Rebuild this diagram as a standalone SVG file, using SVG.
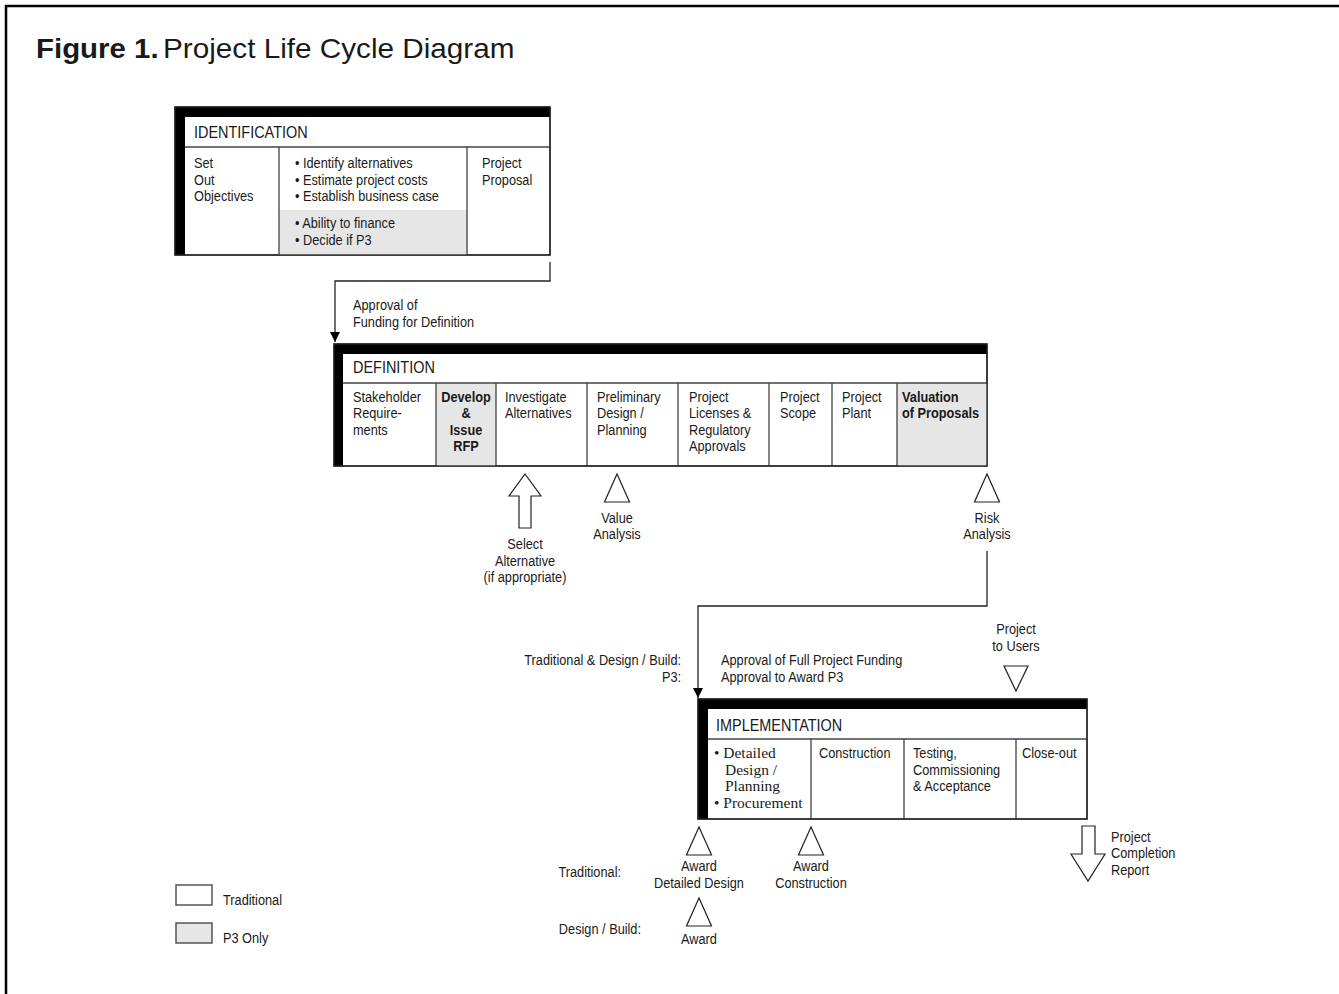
<svg xmlns="http://www.w3.org/2000/svg" width="1339" height="994" viewBox="0 0 1339 994">
<style>
  text { font-family: "Liberation Sans", Arial, sans-serif; font-size: 15px; fill: #1a1a1a; }
  .hdr { font-size: 17px; }
  .b { font-weight: bold; }
  .c { text-anchor: middle; }
  .e { text-anchor: end; }
  .serif { font-family: "Liberation Serif", serif; font-size: 15.5px; }
  .title { font-size: 27px; }
  .box { fill: #fff; stroke: #222; stroke-width: 1.3; }
  .gray { fill: #e6e6e6; stroke: none; }
  .div { stroke: #444; stroke-width: 1.3; fill: none; }
  .bar { fill: #000; }
  .sym { fill: #fff; stroke: #222; stroke-width: 1.2; }
  .conn { fill: none; stroke: #222; stroke-width: 1.3; }
  .leg { stroke: #555; stroke-width: 1.5; }
</style>
<defs>
  <marker id="ah" viewBox="0 0 10 10" refX="10" refY="5" markerWidth="10" markerHeight="10" markerUnits="userSpaceOnUse" orient="auto">
    <path d="M0,0 L10,5 L0,10 Z" fill="#000"/>
  </marker>
  <path id="triUp" d="M0,0 L12.5,28 L-12.5,28 Z"/>
  <path id="triDown" d="M0,25 L12,0 L-12,0 Z"/>
</defs>
<rect width="1339" height="994" fill="#fff"/>
<path d="M6,994 V6 H1339" fill="none" stroke="#000" stroke-width="2.5"/>
<text class="title b" transform="matrix(1.09 0 0 1 36 58)">Figure 1.</text>
<text class="title" transform="matrix(1.1 0 0 1 163 58)">Project Life Cycle Diagram</text>

<g id="connectors">
  <path class="conn" d="M550,262 V281 H335 V342" marker-end="url(#ah)"/>
  <path class="conn" d="M987,551 V606 H698 V698" marker-end="url(#ah)"/>
</g>

<g id="identification">
  <rect class="box" x="175" y="107" width="375" height="148"/>
  <rect class="gray" x="279" y="210" width="188" height="45"/>
  <path class="div" d="M185,147 H550 M279,147 V255 M467,147 V255"/>
  <rect class="bar" x="175" y="107" width="375" height="10"/>
  <rect class="bar" x="175" y="107" width="10" height="148"/>
  <rect x="175" y="107" width="375" height="148" fill="none" stroke="#222" stroke-width="1.3"/>
  <text class="hdr" transform="matrix(.85 0 0 1 194 138)">IDENTIFICATION</text>
  <text transform="matrix(.85 0 0 1 194 168)">Set</text>
  <text transform="matrix(.85 0 0 1 194 185)">Out</text>
  <text transform="matrix(.85 0 0 1 194 201)">Objectives</text>
  <text transform="matrix(.85 0 0 1 295 168)">• Identify alternatives</text>
  <text transform="matrix(.85 0 0 1 295 185)">• Estimate project costs</text>
  <text transform="matrix(.85 0 0 1 295 201)">• Establish business case</text>
  <text transform="matrix(.85 0 0 1 295 228)">• Ability to finance</text>
  <text transform="matrix(.85 0 0 1 295 245)">• Decide if P3</text>
  <text transform="matrix(.85 0 0 1 482 168)">Project</text>
  <text transform="matrix(.85 0 0 1 482 185)">Proposal</text>
</g>

<g id="approval-definition">
  <text transform="matrix(.85 0 0 1 353 310)">Approval of</text>
  <text transform="matrix(.85 0 0 1 353 327)">Funding for Definition</text>
</g>

<g id="definition">
  <rect class="box" x="334" y="344" width="653" height="122"/>
  <rect class="gray" x="436" y="383" width="60" height="83"/>
  <rect class="gray" x="897" y="383" width="90" height="83"/>
  <path class="div" d="M343,383 H987 M436,383 V466 M496,383 V466 M587,383 V466 M678,383 V466 M769,383 V466 M832,383 V466 M897,383 V466"/>
  <rect class="bar" x="334" y="344" width="653" height="10"/>
  <rect class="bar" x="334" y="344" width="9" height="122"/>
  <rect x="334" y="344" width="653" height="122" fill="none" stroke="#222" stroke-width="1.3"/>
  <text class="hdr" transform="matrix(.85 0 0 1 353 373)">DEFINITION</text>
  <text transform="matrix(.85 0 0 1 353 402)">Stakeholder</text>
  <text transform="matrix(.85 0 0 1 353 418)">Require-</text>
  <text transform="matrix(.85 0 0 1 353 435)">ments</text>
  <text class="b c" transform="matrix(.85 0 0 1 466 402)">Develop</text>
  <text class="b c" transform="matrix(.85 0 0 1 466 418)">&amp;</text>
  <text class="b c" transform="matrix(.85 0 0 1 466 435)">Issue</text>
  <text class="b c" transform="matrix(.85 0 0 1 466 451)">RFP</text>
  <text transform="matrix(.85 0 0 1 505 402)">Investigate</text>
  <text transform="matrix(.85 0 0 1 505 418)">Alternatives</text>
  <text transform="matrix(.85 0 0 1 597 402)">Preliminary</text>
  <text transform="matrix(.85 0 0 1 597 418)">Design /</text>
  <text transform="matrix(.85 0 0 1 597 435)">Planning</text>
  <text transform="matrix(.85 0 0 1 689 402)">Project</text>
  <text transform="matrix(.85 0 0 1 689 418)">Licenses &amp;</text>
  <text transform="matrix(.85 0 0 1 689 435)">Regulatory</text>
  <text transform="matrix(.85 0 0 1 689 451)">Approvals</text>
  <text transform="matrix(.85 0 0 1 780 402)">Project</text>
  <text transform="matrix(.85 0 0 1 780 418)">Scope</text>
  <text transform="matrix(.85 0 0 1 842 402)">Project</text>
  <text transform="matrix(.85 0 0 1 842 418)">Plant</text>
  <text class="b" transform="matrix(.85 0 0 1 902 402)">Valuation</text>
  <text class="b" transform="matrix(.85 0 0 1 902 418)">of Proposals</text>
</g>

<g id="select-alternative">
  <polygon class="sym" points="525,474 541,496 531,496 531,528 519,528 519,496 509,496"/>
  <text class="c" transform="matrix(.85 0 0 1 525 549)">Select</text>
  <text class="c" transform="matrix(.85 0 0 1 525 566)">Alternative</text>
  <text class="c" transform="matrix(.85 0 0 1 525 582)">(if appropriate)</text>
</g>

<g id="value-analysis">
  <use href="#triUp" class="sym" x="617" y="474"/>
  <text class="c" transform="matrix(.85 0 0 1 617 523)">Value</text>
  <text class="c" transform="matrix(.85 0 0 1 617 539)">Analysis</text>
</g>

<g id="risk-analysis">
  <use href="#triUp" class="sym" x="987" y="474"/>
  <text class="c" transform="matrix(.85 0 0 1 987 523)">Risk</text>
  <text class="c" transform="matrix(.85 0 0 1 987 539)">Analysis</text>
</g>

<g id="approval-implementation">
  <text class="e" transform="matrix(.85 0 0 1 681 665)">Traditional &amp; Design / Build:</text>
  <text class="e" transform="matrix(.85 0 0 1 681 682)">P3:</text>
  <text transform="matrix(.85 0 0 1 721 665)">Approval of Full Project Funding</text>
  <text transform="matrix(.85 0 0 1 721 682)">Approval to Award P3</text>
</g>

<g id="project-to-users">
  <text class="c" transform="matrix(.85 0 0 1 1016 634)">Project</text>
  <text class="c" transform="matrix(.85 0 0 1 1016 651)">to Users</text>
  <use href="#triDown" class="sym" x="1016" y="666"/>
</g>

<g id="implementation">
  <rect class="box" x="698" y="699" width="389" height="120"/>
  <path class="div" d="M708,739 H1087 M811,739 V819 M904,739 V819 M1016,739 V819"/>
  <rect class="bar" x="698" y="699" width="389" height="10"/>
  <rect class="bar" x="698" y="699" width="10" height="120"/>
  <rect x="698" y="699" width="389" height="120" fill="none" stroke="#222" stroke-width="1.3"/>
  <text class="hdr" transform="matrix(.85 0 0 1 716 731)">IMPLEMENTATION</text>
  <text class="serif" x="714" y="758">• Detailed</text>
  <text class="serif" x="725" y="775">Design /</text>
  <text class="serif" x="725" y="791">Planning</text>
  <text class="serif" x="714" y="808">• Procurement</text>
  <text transform="matrix(.85 0 0 1 819 758)">Construction</text>
  <text transform="matrix(.85 0 0 1 913 758)">Testing,</text>
  <text transform="matrix(.85 0 0 1 913 775)">Commissioning</text>
  <text transform="matrix(.85 0 0 1 913 791)">&amp; Acceptance</text>
  <text transform="matrix(.85 0 0 1 1022 758)">Close-out</text>
</g>

<g id="award-detailed-design">
  <text class="e" transform="matrix(.85 0 0 1 621 877)">Traditional:</text>
  <use href="#triUp" class="sym" x="699" y="827"/>
  <text class="c" transform="matrix(.85 0 0 1 699 871)">Award</text>
  <text class="c" transform="matrix(.85 0 0 1 699 888)">Detailed Design</text>
</g>

<g id="award-construction">
  <use href="#triUp" class="sym" x="811" y="827"/>
  <text class="c" transform="matrix(.85 0 0 1 811 871)">Award</text>
  <text class="c" transform="matrix(.85 0 0 1 811 888)">Construction</text>
</g>

<g id="award-design-build">
  <text class="e" transform="matrix(.85 0 0 1 641 934)">Design / Build:</text>
  <use href="#triUp" class="sym" x="699" y="898"/>
  <text class="c" transform="matrix(.85 0 0 1 699 944)">Award</text>
</g>

<g id="completion-report">
  <polygon class="sym" points="1082,826 1095,826 1095,854 1105,854 1088,881 1071,854 1082,854"/>
  <text transform="matrix(.85 0 0 1 1111 842)">Project</text>
  <text transform="matrix(.85 0 0 1 1111 858)">Completion</text>
  <text transform="matrix(.85 0 0 1 1111 875)">Report</text>
</g>

<g id="legend">
  <rect class="leg" x="176" y="885" width="36" height="20" fill="#fff"/>
  <text transform="matrix(.85 0 0 1 223 905)">Traditional</text>
  <rect class="leg" x="176" y="923" width="36" height="20" fill="#e6e6e6"/>
  <text transform="matrix(.85 0 0 1 223 943)">P3 Only</text>
</g>
</svg>
